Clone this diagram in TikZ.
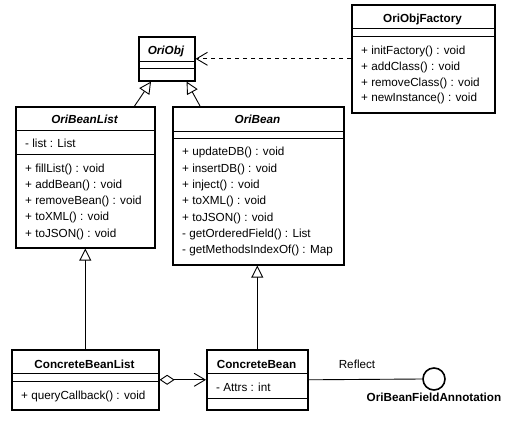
\documentclass[tikz,border=0pt]{standalone}
\usepackage{fontspec}
\setmainfont{Liberation Sans}
\usetikzlibrary{arrows.meta,calc}
\begin{document}
\begin{tikzpicture}[x=1pt,y=-1pt,
  cls/.style={draw, line width=1.6pt, anchor=north west, inner sep=0pt, fill=white},
  divl/.style={line width=0.9pt},
  mt/.style={anchor=base west, inner sep=0pt, font=\fontsize{11.7}{14}\selectfont},
  lt/.style={anchor=base, inner sep=0pt, font=\fontsize{11.7}{14}\selectfont},
  ct/.style={anchor=base, inner sep=0pt, font=\fontsize{11.7}{14}\selectfont\bfseries},
  cti/.style={anchor=base, inner sep=0pt, font=\fontsize{11.7}{14}\selectfont\bfseries\itshape},
  conn/.style={line width=0.9pt},
  gen/.style={conn, -{Triangle[open, length=12pt, width=12pt, fill=white, line width=0.9pt]}},
  dep/.style={conn, dash pattern=on 4pt off 4pt, -{Straight Barb[length=11pt, width=13pt, line width=0.9pt]}},
  agg/.style={conn, {Diamond[open, length=15pt, width=10pt, fill=white, line width=0.9pt]}-{Straight Barb[length=11pt, width=13pt, line width=0.9pt]}}
]
\useasboundingbox[fill=white] (0,0) rectangle (514,422);

% OriObj
\node[cls, minimum width=56pt, minimum height=44pt] (oriobj) at (138,36) {};
\draw[divl] (138,61) -- (194,61);
\draw[divl] (138,68) -- (194,68);
\node[cti] (nOriObj) at (166,55) {OriObj};

% OriObjFactory
\node[cls, minimum width=143pt, minimum height=108pt] (fac) at (351,4) {};
\draw[divl] (351,28) -- (494,28);
\draw[divl] (351,36) -- (494,36);
\node[ct] (nFac) at (422.5,23) {OriObjFactory};
\node[mt] (f1) at (361,55) {+ initFactory() : void};
\node[mt] (f2) at (361,71) {+ addClass() : void};
\node[mt] (f3) at (361,86.5) {+ removeClass() : void};
\node[mt] (f4) at (361,102) {+ newInstance() : void};

% OriBeanList
\node[cls, minimum width=139pt, minimum height=141pt] (obl) at (15,106) {};
\draw[divl] (15,130) -- (154,130);
\draw[divl] (15,154) -- (154,154);
\node[cti] (nObl) at (84.5,124) {OriBeanList};
\node[mt] (l0) at (25,147.5) {- list : List};
\node[mt] (l1) at (25,173) {+ fillList() : void};
\node[mt] (l2) at (25,189) {+ addBean() : void};
\node[mt] (l3) at (25,205) {+ removeBean() : void};
\node[mt] (l4) at (25,221) {+ toXML() : void};
\node[mt] (l5) at (25,237) {+ toJSON() : void};

% OriBean
\node[cls, minimum width=171pt, minimum height=158pt] (ob) at (172,106) {};
\draw[divl] (172,131) -- (343,131);
\draw[divl] (172,138) -- (343,138);
\node[cti] (nOb) at (257.5,124) {OriBean};
\node[mt] (b1) at (182,156) {+ updateDB() : void};
\node[mt] (b2) at (182,172.3) {+ insertDB() : void};
\node[mt] (b3) at (182,188.6) {+ inject() : void};
\node[mt] (b4) at (182,204.9) {+ toXML() : void};
\node[mt] (b5) at (182,221.2) {+ toJSON() : void};
\node[mt] (b6) at (182,237.5) {- getOrderedField() : List};
\node[mt] (b7) at (182,253.8) {- getMethodsIndexOf() : Map};

% ConcreteBeanList
\node[cls, minimum width=147pt, minimum height=60pt] (cbl) at (11,349) {};
\draw[divl] (11,373) -- (158,373);
\draw[divl] (11,381) -- (158,381);
\node[ct] (nCbl) at (84.5,368) {ConcreteBeanList};
\node[mt] (c1) at (21,399) {+ queryCallback() : void};

% ConcreteBean
\node[cls, minimum width=101pt, minimum height=60pt] (cb) at (206,349) {};
\draw[divl] (206,373) -- (307,373);
\draw[divl] (206,398) -- (307,398);
\node[ct] (nCb) at (256.5,368) {ConcreteBean};
\node[mt] (a1) at (216,391) {- Attrs : int};

% Interface
\node[draw, circle, line width=1.6pt, minimum size=22pt, inner sep=0pt] (iface) at (434,379) {};
\node[ct] (nIface) at (434,401.5) {OriBeanFieldAnnotation};
\node[lt] (reflect) at (357,368.5) {Reflect};

% Connectors
\draw[dep] (fac.west) -- (oriobj.east);
\draw[gen] ($(obl.north east)+(-21,0)$) -- ($(oriobj.south west)+(13,0)$);
\draw[gen] ($(ob.north west)+(28,0)$) -- ($(oriobj.south east)+(-9,0)$);
\draw[gen] (cbl.north) -- (obl.south);
\draw[gen] (cb.north) -- (cb.north |- ob.south);
\draw[agg] (cbl.east) -- (cb.west);
\draw[conn] (cb.east) -- (iface.west);
\end{tikzpicture}
\end{document}
